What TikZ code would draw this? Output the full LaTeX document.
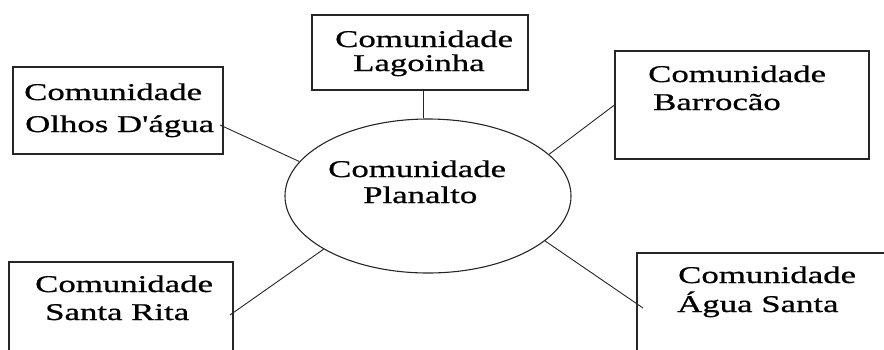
\documentclass[tikz,border=0pt]{standalone}
\usepackage{fontspec}
\newfontfamily\lblfont[FakeStretch=1.45,FakeBold=0.8]{Liberation Serif}
\usetikzlibrary{shapes.geometric}
\begin{document}
\begin{tikzpicture}[x=1pt,y=-1pt,
  box/.style={draw=black!85,line width=1.1pt,rectangle,inner sep=0pt},
  lbl/.style={anchor=base west,inner sep=0pt,font=\lblfont\fontsize{24}{26}\selectfont},
  link/.style={draw=black!85,line width=0.9pt}]
\useasboundingbox (0,0) rectangle (884,349);
\clip (0,0) rectangle (884,349);
% boxes
\node[box,minimum width=216pt,minimum height=75pt] (lagoinha) at (420,52.5) {};
\node[box,minimum width=210pt,minimum height=87pt] (olhos) at (118,110.5) {};
\node[box,minimum width=254pt,minimum height=108pt] (barrocao) at (742,105) {};
\node[box,minimum width=224pt,minimum height=110pt] (santarita) at (121,317) {};
\node[box,minimum width=253pt,minimum height=110pt] (aguasanta) at (763.5,308) {};
\node[draw=black!85,line width=1.1pt,ellipse,minimum width=286pt,minimum height=154pt,inner sep=0pt] (planalto) at (428,196) {};
% labels
\node[lbl] (t1a) at (335,47) {Comunidade};
\node[lbl] (t1b) at (353,71) {Lagoinha};
\node[lbl] (t2a) at (24,100) {Comunidade};
\node[lbl] (t2b) at (25,132) {Olhos D'água};
\node[lbl] (t3a) at (648,82) {Comunidade};
\node[lbl] (t3b) at (653,110) {Barrocão};
\node[lbl] (t4a) at (328,177) {Comunidade};
\node[lbl] (t4b) at (363,203) {Planalto};
\node[lbl] (t5a) at (35,292) {Comunidade};
\node[lbl] (t5b) at (45,320) {Santa Rita};
\node[lbl] (t6a) at (678,283) {Comunidade};
\node[lbl] (t6b) at (677,312) {Água Santa};
% connector ends
\coordinate (lagC) at (423,90);
\coordinate (olhC) at (220,125);
\coordinate (srC) at (230,315);
\coordinate (asC) at (643,308);
% connectors
\draw[link] (lagC) -- (lagC |- planalto.north);
\draw[link] (planalto.165.5) -- (olhC);
\draw[link] (planalto.19.9) -- (barrocao.west);
\draw[link] (planalto.207.2) -- (srC);
\draw[link] (planalto.339.6) -- (asC);
\end{tikzpicture}
\end{document}
